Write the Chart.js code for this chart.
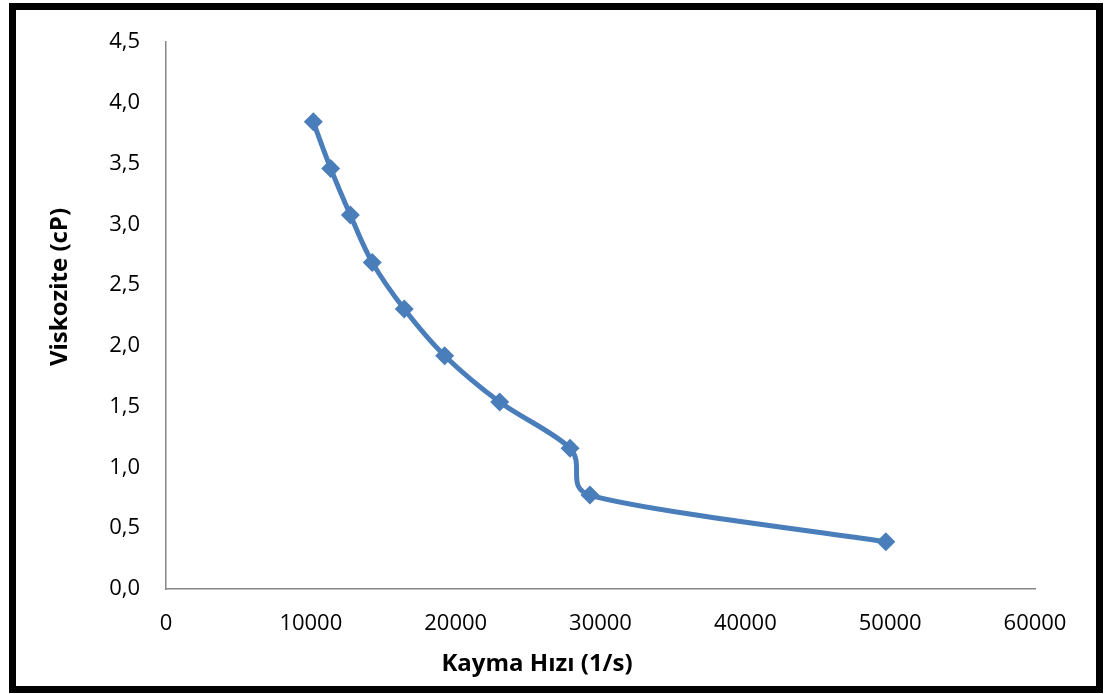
<!DOCTYPE html>
<html>
<head>
<meta charset="utf-8">
<script src="https://cdn.jsdelivr.net/npm/chart.js@4.4.1/dist/chart.umd.min.js"></script>
<style>
html,body{margin:0;padding:0;background:#fff;}
#wrap{position:relative;width:1105px;height:694px;}
#frame{position:absolute;left:9px;top:3px;width:1094px;height:690px;box-sizing:border-box;border:7px solid #000;pointer-events:none;}
canvas{position:absolute;left:0;top:0;}
</style>
</head>
<body>
<div id="wrap">
<canvas id="c" width="1105" height="694"></canvas>
<div id="frame"></div>
</div>
<script>
const shearRate = [10170, 11370, 12730, 14240, 16450, 19240, 23040, 27900, 29270, 49700];
const viscosity = [3.843, 3.460, 3.076, 2.687, 2.303, 1.919, 1.538, 1.157, 0.773, 0.389];
const xTitle = 'Kayma Hızı (1/s)';
const yTitle = 'Viskozite (cP)';

const FONT = "'Open Sans', sans-serif";

const titlePlugin = {
  id: 'titles',
  afterDraw(chart) {
    const ctx = chart.ctx;
    ctx.save();
    ctx.fillStyle = '#000';
    ctx.font = "bold 24px " + FONT;
    ctx.textAlign = 'center';
    ctx.textBaseline = 'middle';
    ctx.fillText(xTitle, 537, 664);
    ctx.translate(60, 287);
    ctx.rotate(-Math.PI / 2);
    ctx.fillText(yTitle, 0, 0);
    ctx.restore();
  }
};

// Excel-like smoothing: Catmull-Rom (1/6) control arms, capped at half the segment length
const smoothPlugin = {
  id: 'excelSmooth',
  beforeDatasetsDraw(chart) {
    chart.data.datasets.forEach((ds, di) => {
      const meta = chart.getDatasetMeta(di);
      const line = meta.dataset;
      if (!line) return;
      line.updateControlPoints(chart.chartArea, 'x');
      const pts = meta.data;
      const n = pts.length;
      const cap = 0.5;
      for (let i = 0; i < n; i++) {
        const p = pts[i];
        const prev = pts[Math.max(0, i - 1)];
        const next = pts[Math.min(n - 1, i + 1)];
        let tx = (next.x - prev.x) / 6, ty = (next.y - prev.y) / 6;
        const tl = Math.hypot(tx, ty) || 1;
        const dPrev = Math.hypot(p.x - prev.x, p.y - prev.y);
        const dNext = Math.hypot(next.x - p.x, next.y - p.y);
        const lb = Math.min(tl, cap * dPrev), la = Math.min(tl, cap * dNext);
        p.cp1x = p.x - tx / tl * lb; p.cp1y = p.y - ty / tl * lb;
        p.cp2x = p.x + tx / tl * la; p.cp2y = p.y + ty / tl * la;
      }
    });
  }
};

new Chart(document.getElementById('c'), {
  type: 'scatter',
  data: {
    datasets: [{
      data: shearRate.map((x, i) => ({x: x, y: viscosity[i]})),
      showLine: true,
      tension: 0.3,
      borderColor: '#4A7EBB',
      backgroundColor: '#4A7EBB',
      borderWidth: 5,
      pointStyle: 'rectRot',
      pointRadius: 9.5,
      pointHoverRadius: 9.5,
      pointBorderWidth: 0
    }]
  },
  options: {
    responsive: false,
    animation: false,
    events: [],
    layout: {padding: {top: 42, right: 70, left: 0, bottom: 0}},
    plugins: {legend: {display: false}, tooltip: {enabled: false}},
    scales: {
      x: {
        type: 'linear',
        min: 0, max: 60000,
        ticks: {stepSize: 10000, color: '#000', font: {family: FONT, size: 22}, padding: 22,
          callback: v => String(v)},
        grid: {display: false, drawTicks: false},
        border: {display: true, color: '#868686', width: 1.5},
        afterFit: s => { s.height = 694 - 589; }
      },
      y: {
        min: 0, max: 4.5,
        ticks: {stepSize: 0.5, color: '#000', font: {family: FONT, size: 22}, padding: 26,
          callback: v => v.toFixed(1).replace('.', ',')},
        grid: {display: false, drawTicks: false},
        border: {display: true, color: '#868686', width: 1.5},
        afterFit: s => { s.width = 166; }
      }
    }
  },
  plugins: [smoothPlugin, titlePlugin]
});
</script>
</body>
</html>
